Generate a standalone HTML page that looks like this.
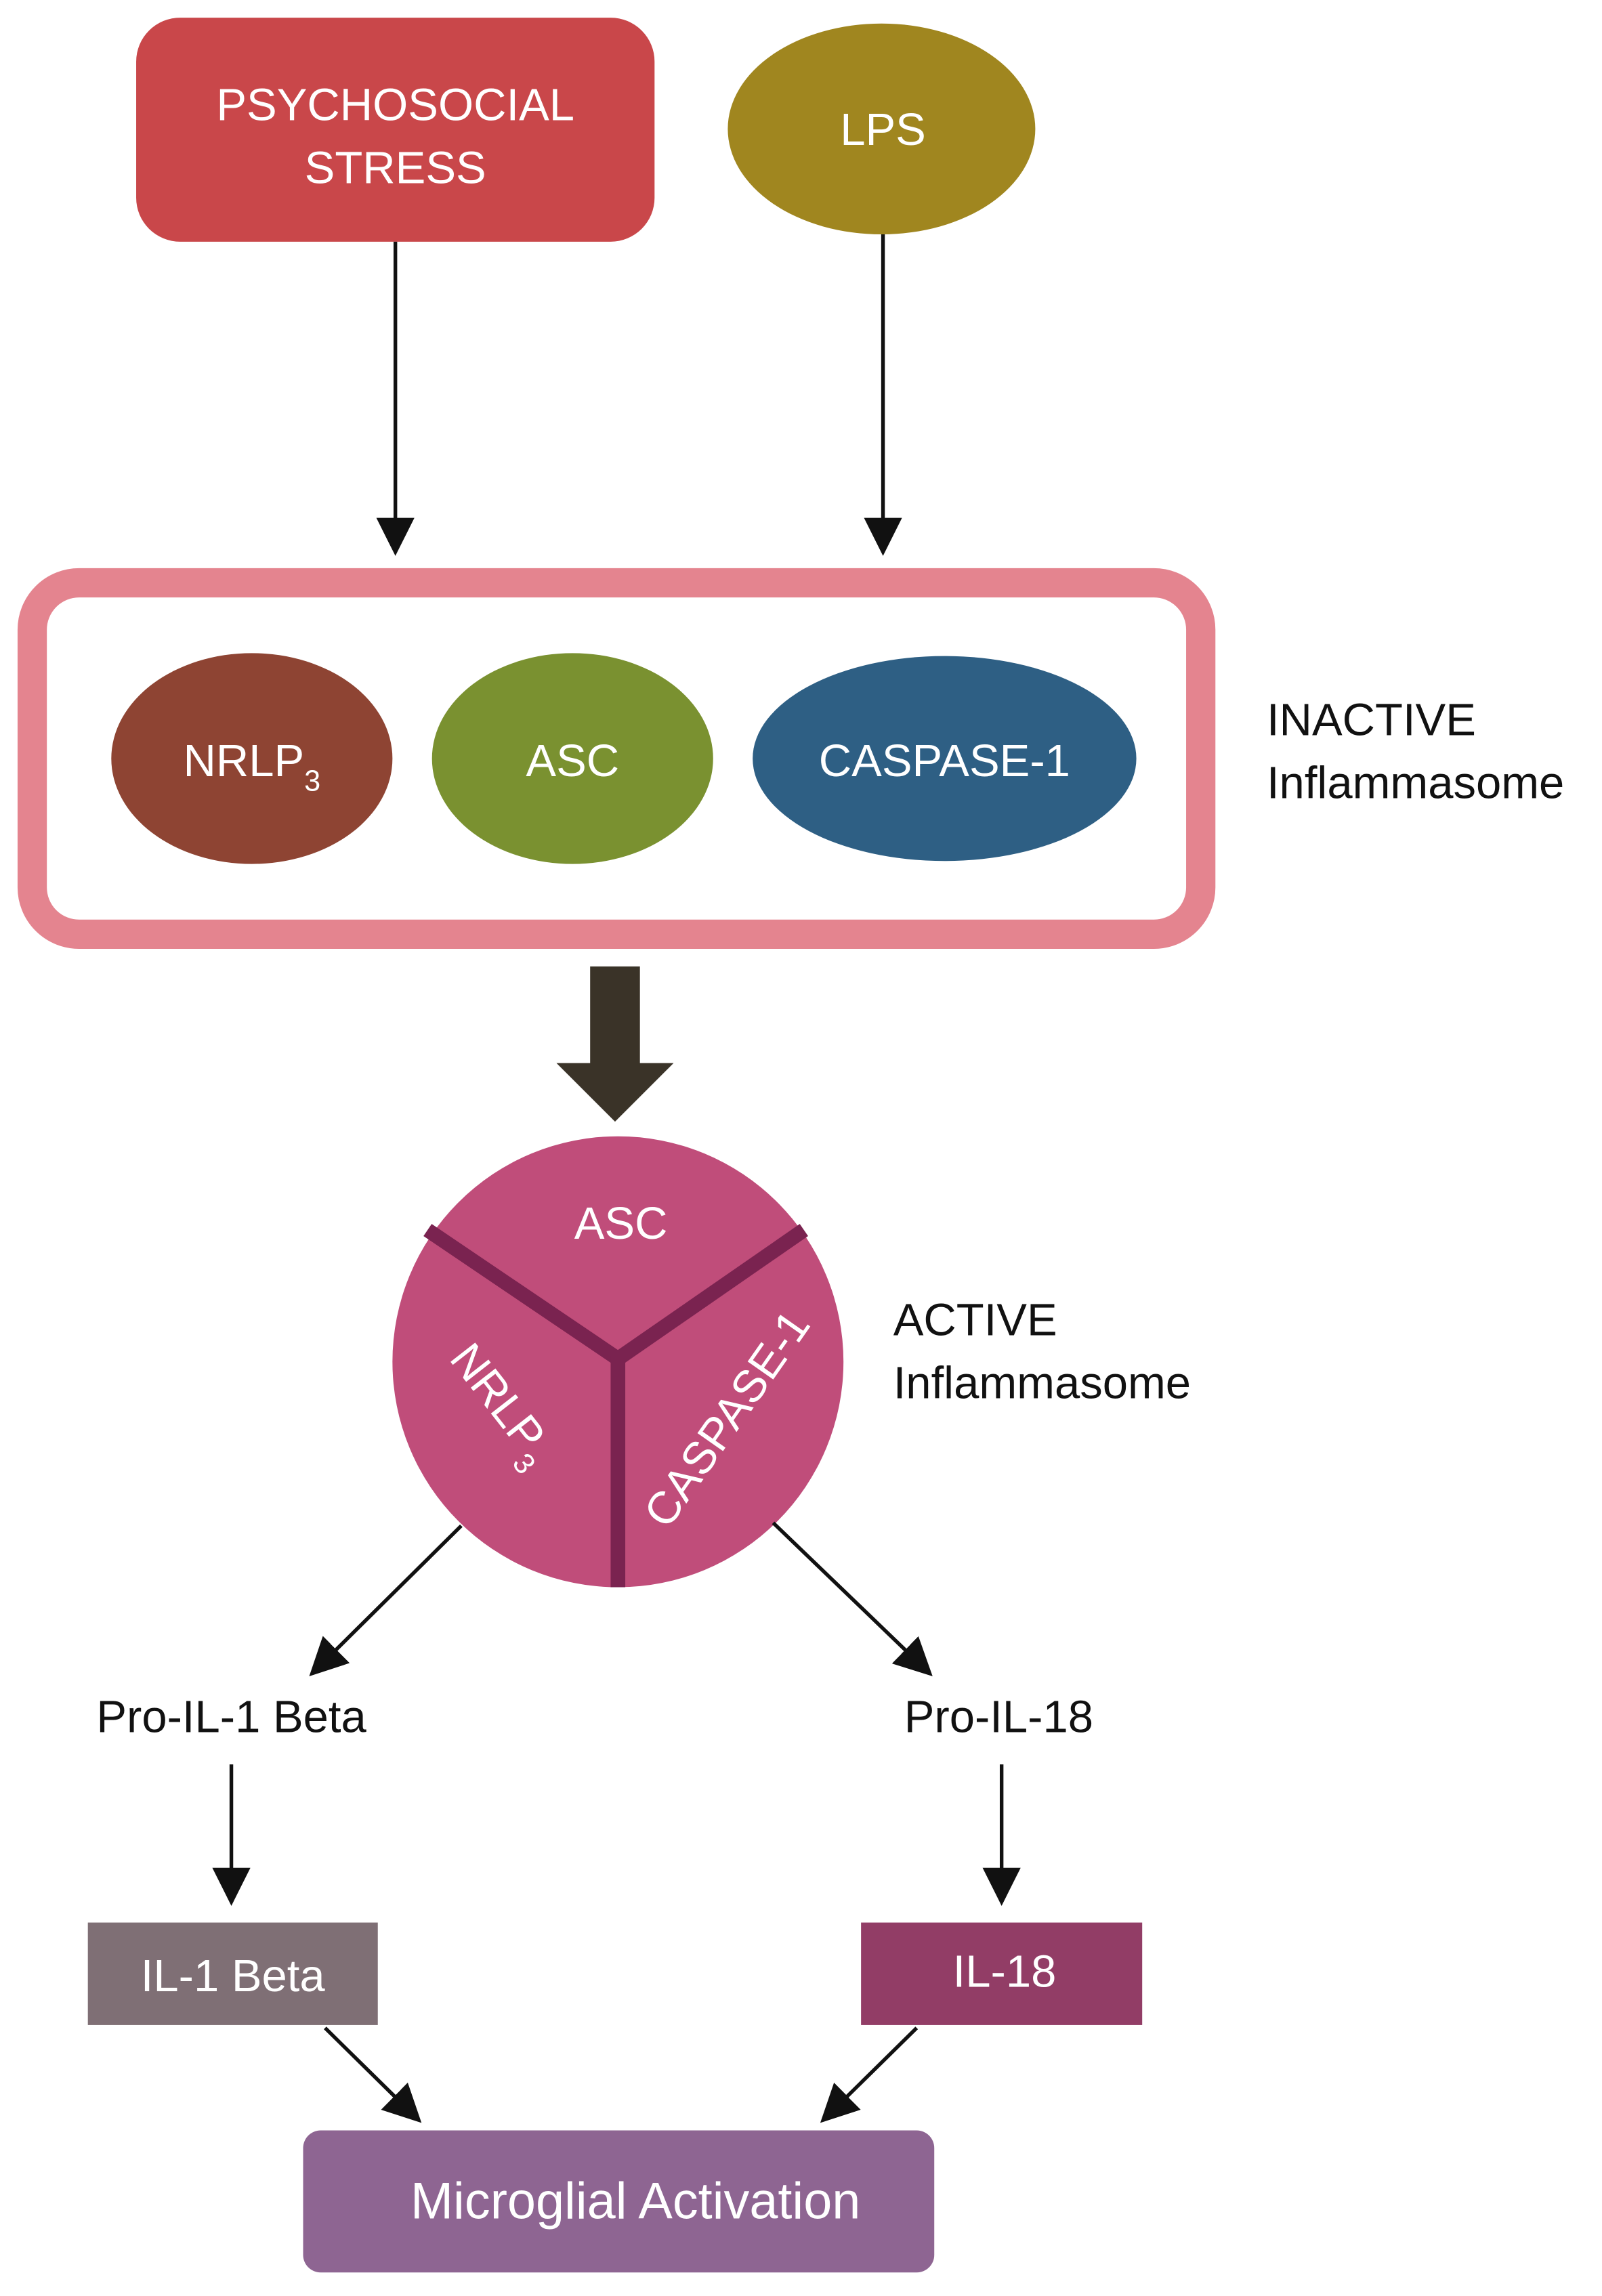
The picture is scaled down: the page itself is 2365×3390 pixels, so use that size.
<!DOCTYPE html>
<html><head><meta charset="utf-8"><style>
html,body{margin:0;padding:0;background:#fff}
svg{display:block}
text{font-family:"Liberation Sans",sans-serif}
</style></head><body>
<svg width="2365" height="3390" viewBox="0 0 1094 1568" xmlns="http://www.w3.org/2000/svg">
<defs>
<marker id="b" viewBox="0 0 10 10" refX="9" refY="5" markerWidth="26" markerHeight="26" markerUnits="userSpaceOnUse" orient="auto">
<path d="M0,0 L10,5 L0,10 z" fill="#111"/></marker>
</defs>
<rect width="1094" height="1568" fill="#fff"/>
<rect x="93" y="12" width="354" height="153" rx="30" fill="#c9474a"/>
<text x="270" y="82" font-size="31" fill="#fff" text-anchor="middle">PSYCHOSOCIAL</text>
<text x="270" y="125" font-size="31" fill="#fff" text-anchor="middle">STRESS</text>
<ellipse cx="602" cy="88" rx="105" ry="72" fill="#a0861f"/>
<text x="603" y="99" font-size="31" fill="#fff" text-anchor="middle">LPS</text>
<line x1="270" y1="165" x2="270" y2="377" stroke="#111" stroke-width="2.5" marker-end="url(#b)"/>
<line x1="603" y1="160" x2="603" y2="377" stroke="#111" stroke-width="2.5" marker-end="url(#b)"/>
<rect x="22" y="398" width="798" height="240" rx="32" fill="#fff" stroke="#e4848f" stroke-width="20"/>
<ellipse cx="172" cy="518" rx="96" ry="72" fill="#8e4433"/>
<text x="172" y="530" font-size="31" fill="#fff" text-anchor="middle">NRLP<tspan font-size="20" dy="10">3</tspan></text>
<ellipse cx="391" cy="518" rx="96" ry="72" fill="#7a9130"/>
<text x="391" y="530" font-size="31" fill="#fff" text-anchor="middle">ASC</text>
<ellipse cx="645" cy="518" rx="131" ry="70" fill="#2e5f84"/>
<text x="645" y="530" font-size="31" fill="#fff" text-anchor="middle">CASPASE-1</text>
<text x="865" y="502" font-size="31" fill="#111">INACTIVE</text>
<text x="865" y="545" font-size="31" fill="#111">Inflammasome</text>
<rect x="403" y="660" width="34" height="68" fill="#3a3328"/>
<polygon points="380,726 460,726 420,766" fill="#3a3328"/>
<circle cx="422" cy="930" r="154" fill="#c04d7a"/>
<g stroke="#7a2350" stroke-width="10" fill="none">
<polyline points="292,840 422,928 549,840"/>
<line x1="422" y1="926" x2="422" y2="1084"/>
</g>
<text x="424" y="846" font-size="31" fill="#fff" text-anchor="middle">ASC</text>
<text transform="translate(335,965) rotate(52)" font-size="31" fill="#fff" text-anchor="middle">NRLP<tspan font-size="20" dy="10">3</tspan></text>
<text transform="translate(505,975) rotate(-55)" font-size="31" fill="#fff" text-anchor="middle">CASPASE-1</text>
<text x="610" y="912" font-size="31" fill="#111">ACTIVE</text>
<text x="610" y="955" font-size="31" fill="#111">Inflammasome</text>
<line x1="315" y1="1042" x2="213" y2="1143" stroke="#111" stroke-width="2.5" marker-end="url(#b)"/>
<line x1="528" y1="1040" x2="635" y2="1143" stroke="#111" stroke-width="2.5" marker-end="url(#b)"/>
<text x="158" y="1183" font-size="31" fill="#111" text-anchor="middle">Pro-IL-1 Beta</text>
<text x="682" y="1183" font-size="31" fill="#111" text-anchor="middle">Pro-IL-18</text>
<line x1="158" y1="1205" x2="158" y2="1299" stroke="#111" stroke-width="2.5" marker-end="url(#b)"/>
<line x1="684" y1="1205" x2="684" y2="1299" stroke="#111" stroke-width="2.5" marker-end="url(#b)"/>
<rect x="60" y="1313" width="198" height="70" fill="#7f6f75"/>
<text x="159" y="1360" font-size="31" fill="#fff" text-anchor="middle">IL-1 Beta</text>
<rect x="588" y="1313" width="192" height="70" fill="#923d66"/>
<text x="686" y="1357" font-size="31" fill="#fff" text-anchor="middle">IL-18</text>
<line x1="222" y1="1385" x2="286" y2="1448" stroke="#111" stroke-width="2.5" marker-end="url(#b)"/>
<line x1="626" y1="1385" x2="562" y2="1448" stroke="#111" stroke-width="2.5" marker-end="url(#b)"/>
<rect x="207" y="1455" width="431" height="97" rx="12" fill="#8e6592"/>
<text x="434" y="1515" font-size="35" fill="#fff" text-anchor="middle">Microglial Activation</text>
</svg>
</body></html>
